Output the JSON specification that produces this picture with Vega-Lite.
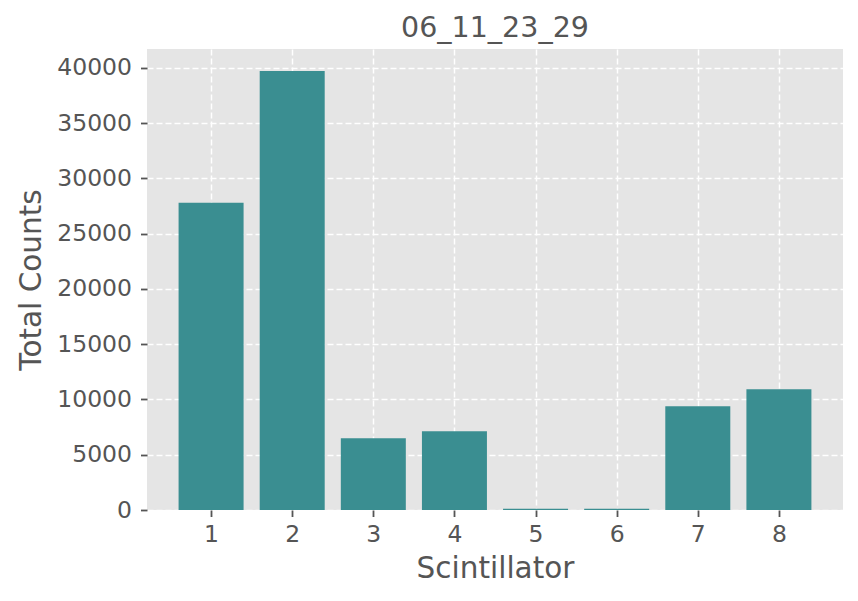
{
  "$schema": "https://vega.github.io/schema/vega-lite/v6.json",
  "autosize": "none",
  "width": 696,
  "height": 461,
  "padding": {"left": 147, "top": 49, "right": 15, "bottom": 91},
  "background": "white",
  "title": {"text": "06_11_23_29", "fontSize": 28.5, "font": "DejaVu Sans", "fontWeight": "normal", "color": "#555555", "offset": 7},
  "config": {
    "view": {"fill": "#E5E5E5", "stroke": null},
    "axis": {
      "labelFont": "DejaVu Sans", "labelFontSize": 23.5, "labelColor": "#555555",
      "titleFont": "DejaVu Sans", "titleFontSize": 29.5, "titleColor": "#555555", "titleFontWeight": "normal",
      "domain": false, "tickColor": "#555555", "tickSize": 6.5, "tickWidth": 1.8,
      "grid": true, "gridColor": "#FFFFFF", "gridDash": [6, 3], "gridWidth": 1.5
    }
  },
  "data": {"values": [
    {"scint": 1, "counts": 27800},
    {"scint": 2, "counts": 39700},
    {"scint": 3, "counts": 6500},
    {"scint": 4, "counts": 7130},
    {"scint": 5, "counts": 120},
    {"scint": 6, "counts": 110},
    {"scint": 7, "counts": 9390},
    {"scint": 8, "counts": 10930}
  ]},
  "mark": {"type": "bar", "size": 65, "color": "#3A8E91"},
  "encoding": {
    "x": {"field": "scint", "type": "quantitative", "title": "Scintillator",
      "scale": {"domain": [0.21, 8.79], "nice": false, "zero": false, "padding": 0},
      "axis": {"values": [1,2,3,4,5,6,7,8], "labelPadding": 6, "titlePadding": 8, "format": "d"}},
    "y": {"field": "counts", "type": "quantitative", "title": "Total Counts",
      "scale": {"domain": [0, 41700], "nice": false},
      "axis": {"values": [0,5000,10000,15000,20000,25000,30000,35000,40000], "format": "d", "labelPadding": 9, "titlePadding": 10}}
  }
}
